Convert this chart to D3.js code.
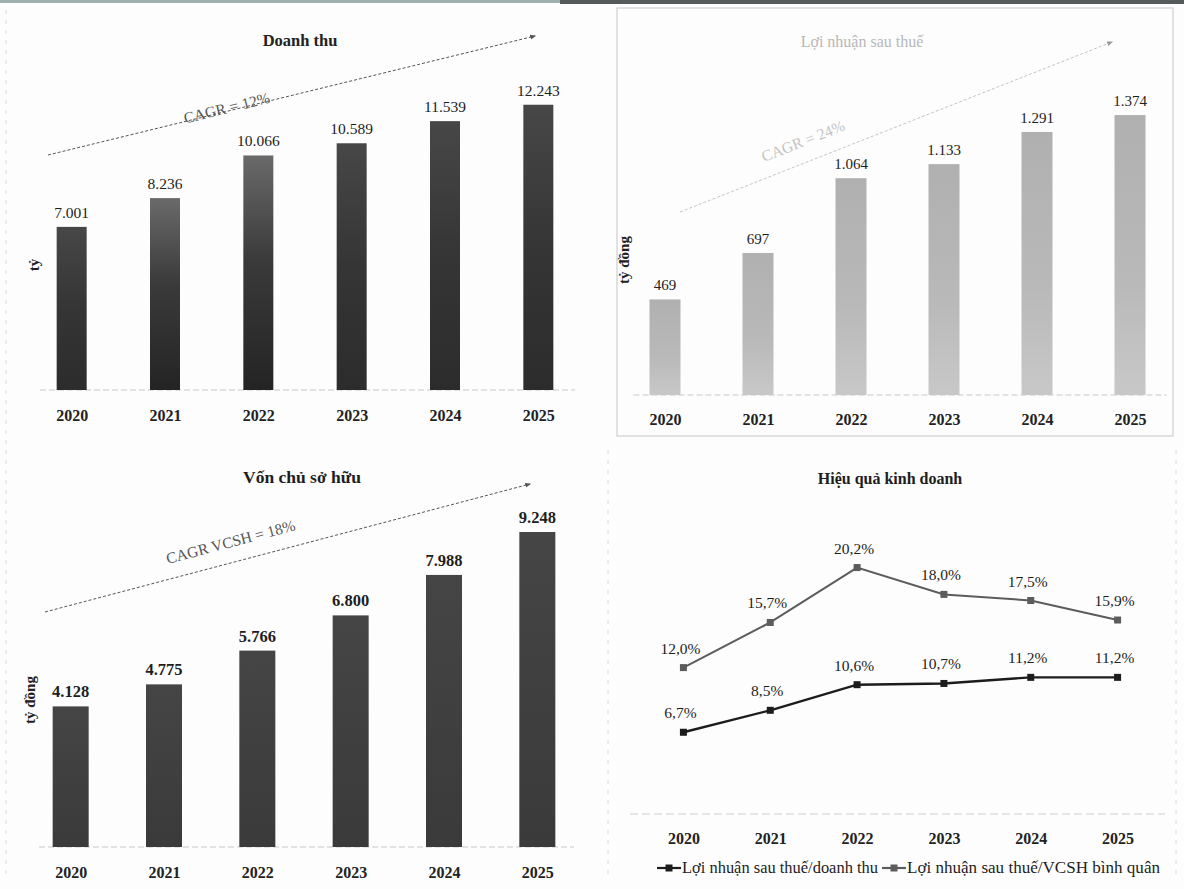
<!DOCTYPE html>
<html>
<head>
<meta charset="utf-8">
<script src="https://cdn.jsdelivr.net/npm/d3@7"></script>
<style>
  html, body { margin: 0; padding: 0; background: #fdfdfd; }
  svg { display: block; font-family: "Liberation Serif", "Times New Roman", serif; }
</style>
</head>
<body>
<svg id="chart" width="1184" height="889"></svg>
<script>
// Years shown on every panel
const years = ["2020", "2021", "2022", "2023", "2024", "2025"];
// Doanh thu (tỷ đồng)
const revenue = [7001, 8236, 10066, 10589, 11539, 12243];
// Lợi nhuận sau thuế (tỷ đồng)
const profit = [469, 697, 1064, 1133, 1291, 1374];
// Vốn chủ sở hữu (tỷ đồng)
const equity = [4128, 4775, 5766, 6800, 7988, 9248];
// Hiệu quả kinh doanh (%)
const rosPct = [6.7, 8.5, 10.6, 10.7, 11.2, 11.2];
const roePct = [12.0, 15.7, 20.2, 18.0, 17.5, 15.9];
const lineNames = ["Lợi nhuận sau thuế/doanh thu", "Lợi nhuận sau thuế/VCSH bình quân"];

const vn = d3.formatLocale({ decimal: ",", thousands: ".", grouping: [3], currency: ["", " đ"] });
const fmtNum = vn.format(",d");
const fmtPct = v => vn.format(".1f")(v) + "%";

const svg = d3.select("#chart");
const defs = svg.append("defs");

// page edge at the top
svg.append("rect").attr("x", 0).attr("y", 0).attr("width", 560).attr("height", 3).attr("fill", "#9fb0b0");
svg.append("rect").attr("x", 560).attr("y", 0).attr("width", 624).attr("height", 4).attr("fill", "#555a5a");

// gradients for bar fills
function grad(id, stops) {
  const g = defs.append("linearGradient").attr("id", id).attr("x1", 0).attr("x2", 0).attr("y1", 0).attr("y2", 1);
  stops.forEach(([o, c]) => g.append("stop").attr("offset", o).attr("stop-color", c));
}
grad("gDark", [[0, "#474747"], [0.5, "#353535"], [1, "#2c2c2c"]]);
grad("gDarkLight", [[0, "#6a6a6a"], [0.45, "#3a3a3a"], [1, "#242424"]]);
grad("gEq", [[0, "#454545"], [1, "#3a3a3a"]]);
grad("gLight", [[0, "#b0b0b0"], [0.6, "#b9b9b9"], [1, "#c8c8c8"]]);

defs.append("marker").attr("id", "arrow").attr("viewBox", "0 0 10 10")
  .attr("refX", 8).attr("refY", 5).attr("markerWidth", 6).attr("markerHeight", 6)
  .attr("orient", "auto")
  .append("path").attr("d", "M0,1 L10,5 L0,9 Z").attr("fill", "#555");
defs.append("marker").attr("id", "arrowFaint").attr("viewBox", "0 0 10 10")
  .attr("refX", 8).attr("refY", 5).attr("markerWidth", 6).attr("markerHeight", 6)
  .attr("orient", "auto")
  .append("path").attr("d", "M0,1 L10,5 L0,9 Z").attr("fill", "#999");

// Generic bar panel
function barPanel(o) {
  const g = svg.append("g");
  const x = d3.scalePoint().domain(years).range(o.xRange).padding(0.5);
  const y = d3.scaleLinear().domain([0, o.max]).range([o.base, o.top]);

  // baseline
  g.append("line").attr("x1", o.xRange[0] + 15).attr("x2", o.xRange[1] - 10)
    .attr("y1", o.base).attr("y2", o.base)
    .attr("stroke", "#c8c8c8").attr("stroke-width", 1).attr("stroke-dasharray", "6,3");

  // CAGR trend arrow
  const [a, b] = o.arrow;
  g.append("line").attr("x1", a[0]).attr("y1", a[1]).attr("x2", b[0]).attr("y2", b[1])
    .attr("stroke", o.arrowColor).attr("stroke-width", 1).attr("stroke-dasharray", "3,2")
    .attr("marker-end", o.faint ? "url(#arrowFaint)" : "url(#arrow)");
  const ang = Math.atan2(b[1] - a[1], b[0] - a[0]) * 180 / Math.PI;
  g.append("text").attr("transform", `translate(${o.cagrPos[0]},${o.cagrPos[1]}) rotate(${ang})`)
    .attr("text-anchor", "middle").attr("font-size", 15.5).attr("fill", o.arrowColor)
    .text(o.cagrText);

  g.selectAll("rect.bar").data(o.values).join("rect").attr("class", "bar")
    .attr("x", (d, i) => x(years[i]) - o.barW / 2)
    .attr("width", o.barW)
    .attr("y", d => y(d))
    .attr("height", d => o.base - y(d))
    .attr("fill", (d, i) => o.fill(i));

  g.selectAll("text.val").data(o.values).join("text").attr("class", "val")
    .attr("x", (d, i) => x(years[i]))
    .attr("y", d => y(d) - 9)
    .attr("text-anchor", "middle").attr("font-size", o.valSize).attr("font-weight", o.valWeight)
    .attr("fill", "#1e1e1e")
    .text(d => fmtNum(d));

  const ax = g.append("g").attr("transform", `translate(0,${o.base})`)
    .call(d3.axisBottom(x).tickSize(0).tickPadding(o.tickPad));
  ax.select(".domain").remove();
  ax.selectAll("text").attr("font-size", 16).attr("font-weight", "bold").attr("fill", "#222")
    .attr("font-family", "'Liberation Serif', serif");

  g.append("text").attr("x", o.titlePos[0]).attr("y", o.titlePos[1])
    .attr("text-anchor", "middle").attr("font-size", o.titleSize).attr("font-weight", o.titleWeight)
    .attr("fill", o.titleColor).text(o.title);

  g.append("text").attr("transform", `translate(${o.yLabelPos[0]},${o.yLabelPos[1]}) rotate(-90)`)
    .attr("text-anchor", "middle").attr("font-size", 15).attr("font-weight", "bold").attr("fill", "#222")
    .text(o.yLabel);
}

// Top-right panel frame
svg.append("rect").attr("x", 617).attr("y", 8).attr("width", 556).attr("height", 428)
  .attr("fill", "none").attr("stroke", "#cfcfcf").attr("stroke-width", 1.2);
// faint margins of the lower panels
svg.append("line").attr("x1", 6).attr("x2", 6).attr("y1", 10).attr("y2", 880)
  .attr("stroke", "#dadada").attr("stroke-dasharray", "4,6");
svg.append("line").attr("x1", 608).attr("x2", 608).attr("y1", 450).attr("y2", 880)
  .attr("stroke", "#dadada").attr("stroke-dasharray", "4,6");
svg.append("line").attr("x1", 1176).attr("x2", 1176).attr("y1", 450).attr("y2", 880)
  .attr("stroke", "#dadada").attr("stroke-dasharray", "4,6");

barPanel({
  values: revenue, xRange: [25, 585], max: 14000, base: 390, top: 63.8, barW: 30,
  fill: i => (i === 1 || i === 2) ? "url(#gDarkLight)" : "url(#gDark)",
  valSize: 15.5, valWeight: "normal",
  arrow: [[48, 155], [535, 36]], arrowColor: "#555", cagrText: "CAGR = 12%", cagrPos: [228, 113],
  title: "Doanh thu", titlePos: [300, 46], titleSize: 16.5, titleWeight: "bold", titleColor: "#222",
  yLabel: "tỷ", yLabelPos: [39, 265], tickPad: 20
});

barPanel({
  values: profit, xRange: [618.5, 1176.5], max: 1600, base: 395, top: 69, barW: 31,
  fill: () => "url(#gLight)",
  valSize: 15, valWeight: "normal",
  arrow: [[680, 212], [1112, 42]], arrowColor: "#c4c4c4", faint: true,
  cagrText: "CAGR = 24%", cagrPos: [805, 146],
  title: "Lợi nhuận sau thuế", titlePos: [862, 47], titleSize: 16, titleWeight: "normal", titleColor: "#b8b8b8",
  yLabel: "tỷ đồng", yLabelPos: [629, 260], tickPad: 19
});

barPanel({
  values: equity, xRange: [24, 584], max: 10000, base: 847, top: 506.4, barW: 36,
  fill: () => "url(#gEq)",
  valSize: 16.5, valWeight: "bold",
  arrow: [[45, 612], [530, 484]], arrowColor: "#555", cagrText: "CAGR VCSH = 18%", cagrPos: [232, 547],
  title: "Vốn chủ sở hữu", titlePos: [302, 483], titleSize: 17.5, titleWeight: "bold", titleColor: "#1e1e1e",
  yLabel: "tỷ đồng", yLabelPos: [35, 700], tickPad: 20
});

// Line chart: Hiệu quả kinh doanh
(function () {
  const g = svg.append("g");
  const x = d3.scalePoint().domain(years).range([640, 1161]).padding(0.5);
  const y = d3.scaleLinear().domain([0, 25]).range([814, 509]);

  g.append("line").attr("x1", 630).attr("x2", 1165).attr("y1", 814).attr("y2", 814)
    .attr("stroke", "#cfcfcf").attr("stroke-dasharray", "8,4");

  g.append("text").attr("x", 890).attr("y", 484).attr("text-anchor", "middle")
    .attr("font-size", 16).attr("font-weight", "bold").attr("fill", "#1e1e1e").text("Hiệu quả kinh doanh");

  const series = [
    { vals: rosPct, color: "#1c1c1c", width: 2.4 },
    { vals: roePct, color: "#5c5c5c", width: 2 }
  ];
  const line = d3.line().x((d, i) => x(years[i])).y(d => y(d));
  series.forEach(s => {
    g.append("path").datum(s.vals).attr("d", line).attr("fill", "none")
      .attr("stroke", s.color).attr("stroke-width", s.width);
    g.selectAll(null).data(s.vals).join("rect")
      .attr("x", (d, i) => x(years[i]) - 3.5).attr("y", d => y(d) - 3.5)
      .attr("width", 7).attr("height", 7).attr("fill", s.color);
    g.selectAll(null).data(s.vals).join("text")
      .attr("x", (d, i) => x(years[i]) - 3).attr("y", d => y(d) - 14)
      .attr("text-anchor", "middle").attr("font-size", 15.5).attr("fill", "#1e1e1e")
      .text(d => fmtPct(d));
  });

  const ax = g.append("g").attr("transform", "translate(0,814)")
    .call(d3.axisBottom(x).tickSize(0).tickPadding(19));
  ax.select(".domain").remove();
  ax.selectAll("text").attr("font-size", 16).attr("font-weight", "bold").attr("fill", "#222")
    .attr("font-family", "'Liberation Serif', serif");

  // legend
  const legendX = [657, 882];
  series.forEach((s, i) => {
    const lg = g.append("g").attr("transform", `translate(${legendX[i]},868)`);
    lg.append("line").attr("x1", 0).attr("x2", 24).attr("y1", 0).attr("y2", 0)
      .attr("stroke", s.color).attr("stroke-width", 2.2);
    lg.append("rect").attr("x", 8.5).attr("y", -3.5).attr("width", 7).attr("height", 7).attr("fill", s.color);
    lg.append("text").attr("x", 25).attr("y", 5).attr("font-size", 16.5).attr("fill", "#1e1e1e")
      .attr("textLength", i === 0 ? 196 : 253).attr("lengthAdjust", "spacingAndGlyphs")
      .text(lineNames[i]);
  });
})();
</script>
</body>
</html>
